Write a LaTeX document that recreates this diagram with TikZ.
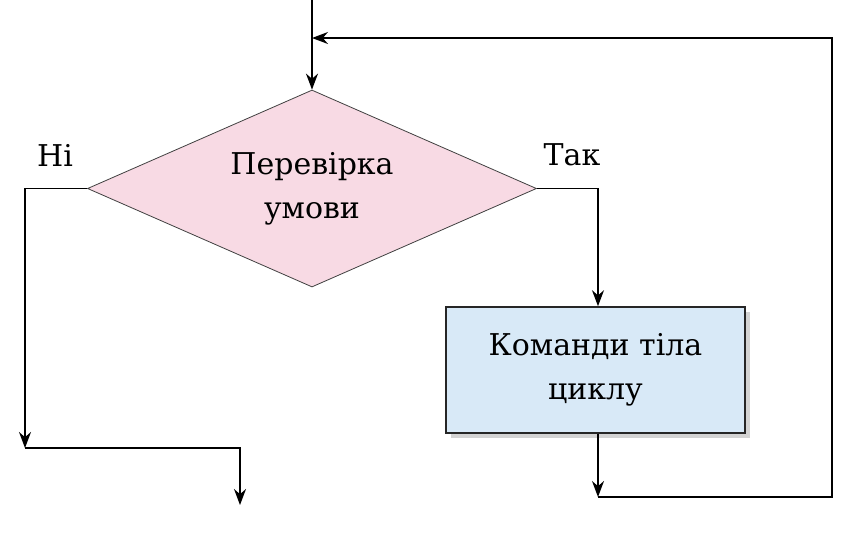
\documentclass[tikz,border=0pt]{standalone}
\usepackage{fontspec}
\setmainfont{DejaVu Serif}
\usetikzlibrary{shapes.geometric,shadows,positioning,arrows.meta}
\definecolor{condpink}{RGB}{248,218,228}
\definecolor{bodyblue}{RGB}{216,233,247}
\begin{document}
\begin{tikzpicture}[x=0.5pt,y=-0.5pt,>={Stealth[length=8pt,width=6pt]},
  every node/.style={font=\fontsize{15}{22}\selectfont},
  cond/.style={diamond,draw=black!75,fill=condpink,inner sep=0pt,aspect=2.28,
    minimum width=224.5pt,minimum height=98.5pt,align=center},
  body/.style={rectangle,draw=black!85,thick,fill=bodyblue,minimum width=149.5pt,
    minimum height=63pt,align=center,drop shadow={opacity=0.35}},
  line/.style={draw,thick}]
\useasboundingbox (0,0) rectangle (847,543);
\node[cond] (check) at (312,188.5) {Перевірка\\умови};
\node[body] (loop) at (595.5,370) {Команди тіла\\циклу};
\coordinate (in) at (312,0);
\coordinate (ret) at (312,38);
\coordinate (join) at (598,497);
\coordinate (noturn) at (25,448);
\coordinate (out) at (240,505);
\draw[line,->] (in) -- (check.north);
\draw[line,->] (check.east) -| (loop.north -| join);
\draw[line,->] (loop.south -| join) -- (join);
\draw[line,->] (join) -- (832,497) |- (ret);
\draw[line,->] (check.west) -| (noturn);
\draw[line,->] (noturn) -| (out);
\node (no) at (55,155) {Ні};
\node (yes) at (572,155) {Так};
\end{tikzpicture}
\end{document}
